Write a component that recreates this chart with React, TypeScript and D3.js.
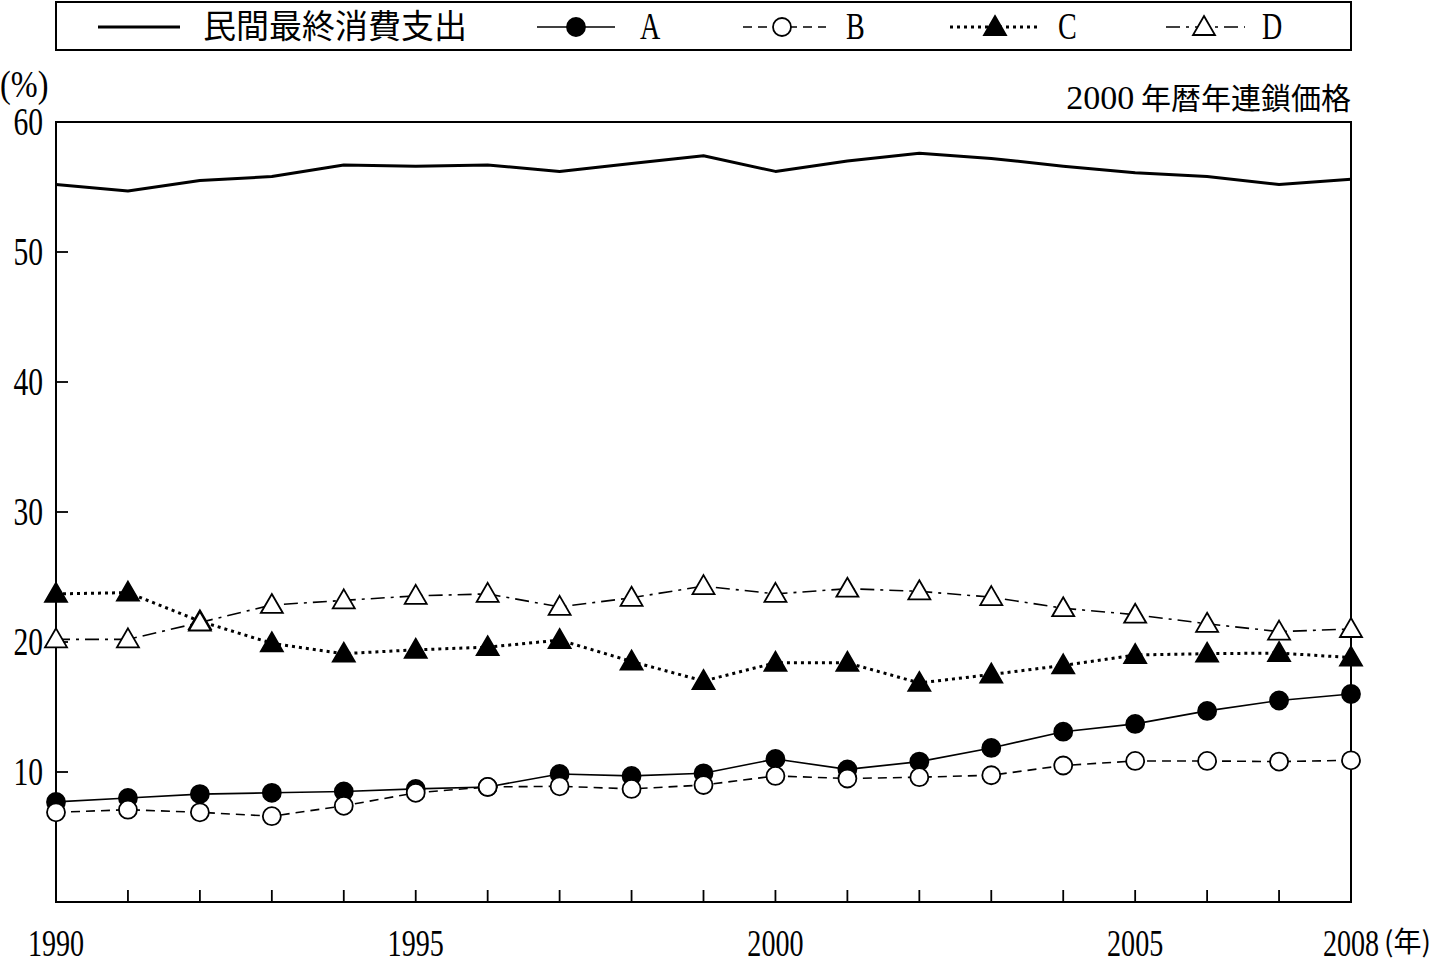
import React from 'react';
import * as d3 from 'd3';

// 年
const years = [1990, 1991, 1992, 1993, 1994, 1995, 1996, 1997, 1998, 1999, 2000, 2001, 2002, 2003, 2004, 2005, 2006, 2007, 2008];
const yearLabels = [1990, 1995, 2000, 2005, 2008];
const yTicks = [10, 20, 30, 40, 50, 60];

// 系列 (%)
const consumption = [55.2, 54.7, 55.5, 55.8, 56.7, 56.6, 56.7, 56.2, 56.8, 57.4, 56.2, 57.0, 57.6, 57.2, 56.6, 56.1, 55.8, 55.2, 55.6];
const seriesA = [7.7, 8.0, 8.3, 8.4, 8.5, 8.7, 8.85, 9.85, 9.7, 9.9, 11.0, 10.2, 10.8, 11.85, 13.1, 13.7, 14.7, 15.5, 16.0];
const seriesB = [6.9, 7.1, 6.9, 6.6, 7.4, 8.4, 8.85, 8.9, 8.7, 9.0, 9.7, 9.5, 9.6, 9.75, 10.5, 10.85, 10.85, 10.8, 10.9];
const seriesC = [23.7, 23.8, 21.6, 19.9, 19.1, 19.4, 19.6, 20.15, 18.5, 17.0, 18.4, 18.4, 16.85, 17.5, 18.2, 19.0, 19.1, 19.15, 18.8];
const seriesD = [20.2, 20.2, 21.5, 22.85, 23.2, 23.55, 23.7, 22.7, 23.4, 24.3, 23.7, 24.1, 23.9, 23.45, 22.6, 22.1, 21.4, 20.8, 21.0];

const left = 56, right = 1351, top = 122, bottom = 902;
const numFont = '"Liberation Serif", "DejaVu Serif", serif';
const jpFont = '"Noto Sans CJK JP", sans-serif';

type Marker = 'none' | 'dot' | 'circle' | 'triFill' | 'triOpen';

interface Series {
  name: string;
  values: number[];
  dash: string | undefined;
  width: number;
  marker: Marker;
  legendX: number;
  legendLine: [number, number];
  textX: number;
}

const series: Series[] = [
  { name: '民間最終消費支出', values: consumption, dash: undefined, width: 3, marker: 'none', legendX: 139, legendLine: [98, 180], textX: 203 },
  { name: 'A', values: seriesA, dash: undefined, width: 1.6, marker: 'dot', legendX: 576, legendLine: [537, 615], textX: 640 },
  { name: 'B', values: seriesB, dash: '9,6', width: 1.6, marker: 'circle', legendX: 782, legendLine: [743, 826], textX: 846 },
  { name: 'C', values: seriesC, dash: '3,4', width: 3, marker: 'triFill', legendX: 995, legendLine: [950, 1038], textX: 1058 },
  { name: 'D', values: seriesD, dash: '14,6,3,6', width: 1.6, marker: 'triOpen', legendX: 1204, legendLine: [1166, 1245], textX: 1262 },
];

const MarkerShape: React.FC<{ kind: Marker; x: number; y: number }> = ({ kind, x, y }) => {
  if (kind === 'none') return null;
  if (kind === 'dot' || kind === 'circle') {
    return <circle cx={x} cy={y} r={9} fill={kind === 'dot' ? '#000' : '#fff'} stroke="#000" strokeWidth={1.8} />;
  }
  const p = d3.path();
  p.moveTo(x, y - 11);
  p.lineTo(x + 11, y + 8);
  p.lineTo(x - 11, y + 8);
  p.closePath();
  return <path d={p.toString()} fill={kind === 'triFill' ? '#000' : '#fff'} stroke="#000" strokeWidth={1.8} strokeLinejoin="miter" />;
};

const Num: React.FC<{ x: number; y: number; anchor?: string; size?: number; children: React.ReactNode }> = ({ x, y, anchor = 'middle', size = 40, children }) => (
  <text transform={`translate(${x},${y}) scale(0.74,1)`} textAnchor={anchor} fontFamily={numFont} fontSize={size} fill="#000">
    {children}
  </text>
);

const App: React.FC = () => {
  const x = d3.scaleLinear().domain([1990, 2008]).range([left, right]);
  const y = d3.scaleLinear().domain([0, 60]).range([bottom, top]);

  const line = (vals: number[]) =>
    d3.line<number>().x((_, i) => x(years[i])).y(d => y(d))(vals) || '';

  return (
    <svg width={1448} height={965} style={{ position: 'absolute', left: 0, top: 0, background: '#fff' }}>
      {/* legend */}
      <rect x={left} y={2} width={right - left} height={48} fill="#fff" stroke="#000" strokeWidth={2} />
      {series.map(s => (
        <g key={s.name}>
          <line x1={s.legendLine[0]} x2={s.legendLine[1]} y1={27} y2={27} stroke="#000" strokeWidth={s.width} strokeDasharray={s.dash} />
          <MarkerShape kind={s.marker} x={s.legendX} y={27} />
          {s.name.length > 1 ? (
            <text x={s.textX} y={38} fontFamily={jpFont} fontSize={33} fill="#000">{s.name}</text>
          ) : (
            <Num x={s.textX} y={39} anchor="start" size={38}>{s.name}</Num>
          )}
        </g>
      ))}

      {/* axis titles */}
      <text transform="translate(0,97) scale(0.85,1)" fontFamily={numFont} fontSize={38} fill="#000">(%)</text>
      <text x={right} y={109} textAnchor="end" fontFamily={jpFont} fontSize={30} fill="#000">
        <tspan fontFamily={numFont} fontSize={34}>2000</tspan> 年暦年連鎖価格
      </text>

      {/* plot frame */}
      <rect x={left} y={top} width={right - left} height={bottom - top} fill="none" stroke="#000" strokeWidth={2} />

      {/* y ticks */}
      {yTicks.map(t => (
        <g key={t}>
          {t < 60 && <line x1={left} x2={left + 12} y1={y(t)} y2={y(t)} stroke="#000" strokeWidth={1.8} />}
          <Num x={43} y={y(t) + 13} anchor="end">{t}</Num>
        </g>
      ))}

      {/* x ticks */}
      {years.slice(1, -1).map(yr => (
        <line key={yr} x1={x(yr)} x2={x(yr)} y1={bottom} y2={bottom - 12} stroke="#000" strokeWidth={1.8} />
      ))}
      {yearLabels.map(yr => (
        <Num key={yr} x={x(yr)} y={956} size={38}>{yr}</Num>
      ))}
      <text x={1384} y={952} fontFamily={jpFont} fontSize={28} fill="#000">(年)</text>

      {/* series lines */}
      {series.map(s => (
        <path key={s.name} d={line(s.values)} fill="none" stroke="#000" strokeWidth={s.width} strokeDasharray={s.dash} strokeLinejoin="round" />
      ))}
      {series.map(s =>
        s.values.map((v, i) => <MarkerShape key={`${s.name}-${i}`} kind={s.marker} x={x(years[i])} y={y(v)} />)
      )}
    </svg>
  );
};

export default App;
